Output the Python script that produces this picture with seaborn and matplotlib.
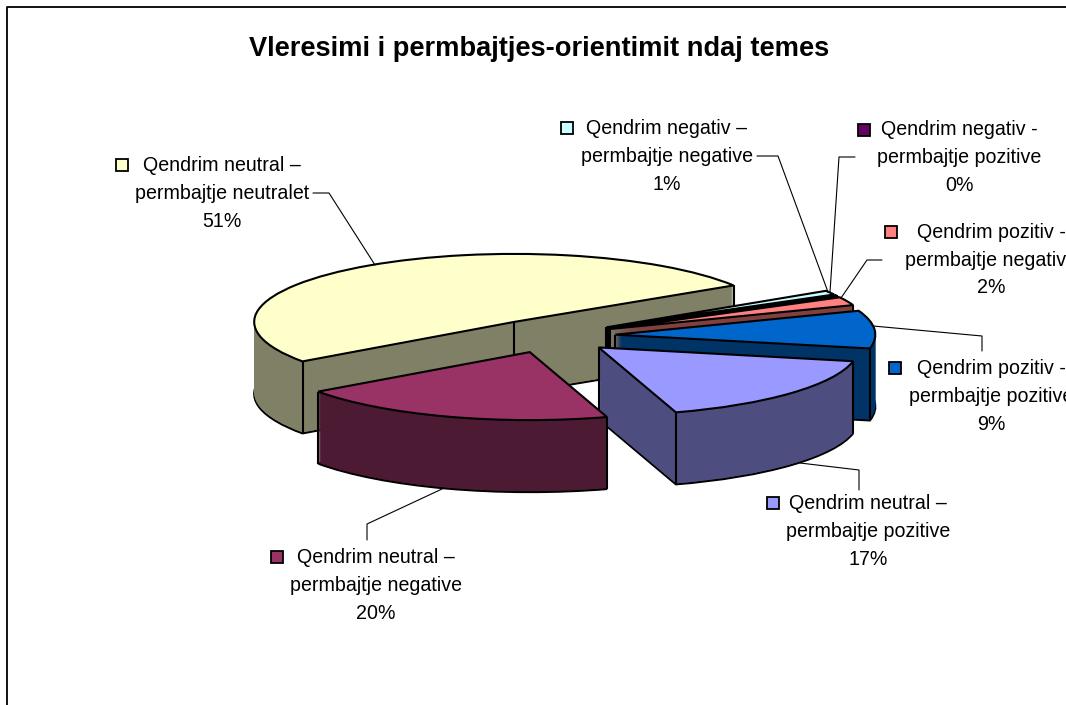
import numpy as np
import matplotlib
matplotlib.use("Agg")
import matplotlib.pyplot as plt
import seaborn as sns

# ---- data (clockwise from the cut edge of the biggest slice)
categories = [
    "Qendrim neutral –\npermbajtje neutralet",
    "Qendrim negativ –\npermbajtje negative",
    "Qendrim negativ -\npermbajtje pozitive",
    "Qendrim pozitiv -\npermbajtje negative",
    "Qendrim pozitiv -\npermbajtje pozitive",
    "Qendrim neutral –\npermbajtje pozitive",
    "Qendrim neutral –\npermbajtje negative",
]
values = [51, 1, 0.3, 2, 9, 17, 20]
top_colors = ["#FFFFCC", "#CCFFFF", "#660066", "#FF8080", "#0066CC", "#9999FF", "#993366"]

# ---- layout, in reference pixels
W, H = 1066, 705
CX, CY, RX, RY, DEPTH = 550.5, 336, 260, 68, 72
EXPLODE = 0.25
START = -144.5
label_pos = [(222, 193.5), (667, 156.5), (959, 157.5), (991, 260), (991, 396.5), (868, 531.5), (376, 585.5)]
key_pos = [(122, 165), (567, 128), (864, 130), (891, 232), (895, 368), (773, 503), (277, 557)]
leaders = [
    [(313, 193), (329, 193), (375, 265)],
    [(757, 156), (778, 156), (828, 292)],
    [(855, 157), (839, 157), (830, 292)],
    [(882, 260), (867, 260), (841, 298)],
    [(873, 326), (982, 336), (982, 351)],
    [(800, 463), (859, 470), (859, 490)],
    [(367, 540), (367, 524), (442, 489)],
]

sns.set_theme(style="white")
plt.rcParams["font.family"] = ["Liberation Sans", "DejaVu Sans"]

fig = plt.figure(figsize=(W / 100, H / 100), dpi=100, facecolor="white")
ax = fig.add_axes([0, 0, 1, 1])

top_pal = sns.color_palette(top_colors)
side_pal = [tuple(c * 0.5 for c in col) for col in top_pal]

explode = [EXPLODE] * len(values)


def layer(dy, colors, edge, lw, zfun):
    wedges, _ = ax.pie(values, explode=explode, colors=colors, startangle=START,
                       counterclock=False, center=(0, -dy),
                       wedgeprops=dict(edgecolor=edge, linewidth=lw))
    for r, w in enumerate(wedges):
        w.set_zorder(zfun(r))
    return wedges


def rank(r):
    return 10 + r * 10


d_unit = DEPTH / RY
layer(d_unit, side_pal, "black", 1.5, rank)
for k in range(DEPTH - 1, 0, -1):
    layer(k / RY, side_pal, "none", 0, rank)
tops = layer(0, top_pal, "black", 1.5, lambda r: rank(r) + 2)

ax.set_aspect("auto")
ax.set_xlim(-CX / RX, (W - CX) / RX)
ax.set_ylim(-(H - CY) / RY, CY / RY)
ax.set_axis_off()
fig.canvas.draw()

# vertical edges of the extruded slices
for r, w in enumerate(tops):
    cx, cy = w.center
    a, b = w.theta1 % 360, w.theta2 % 360
    angles = [a, b]
    for s in (0, 180):
        if ((s - a) % 360) < ((b - a) % 360):
            angles.append(s)
    pts = [(cx, cy)] + [(cx + np.cos(np.radians(t)), cy + np.sin(np.radians(t))) for t in angles]
    for x, y in pts:
        probe = ax.transData.transform((x, y - 0.03))
        if not w.contains_point(probe):
            ax.plot([x, x], [y, y - d_unit], color="black", lw=1.5, zorder=rank(r) + 1,
                    solid_capstyle="butt")

# overlay in pixel coordinates for text, leaders, frame
ov = fig.add_axes([0, 0, 1, 1], facecolor="none")
ov.set_xlim(0, W)
ov.set_ylim(H, 0)
ov.set_axis_off()
ov.plot([6.5, 6.5, W], [H, 6.5, 6.5], color="black", lw=1.3)
ov.text(539, 48.5, "Vleresimi i permbajtjes-orientimit ndaj temes", ha="center", va="center",
        fontsize=19.6, fontweight="bold", color="black")

for cat, val, col, (lx, ly), (kx, ky), pts in zip(categories, values, top_pal, label_pos, key_pos, leaders):
    ov.text(lx, ly, f"{cat}\n{round(val)}%", ha="center", va="center", fontsize=14.1,
            color="black", linespacing=1.58, clip_on=True)
    ov.plot([kx], [ky], marker="s", ms=8, mfc=col, mec="black", mew=1.3, ls="none")
    xs, ys = zip(*pts)
    ov.plot(xs, ys, color="black", lw=0.8)

fig.savefig("out.png", dpi=100)
